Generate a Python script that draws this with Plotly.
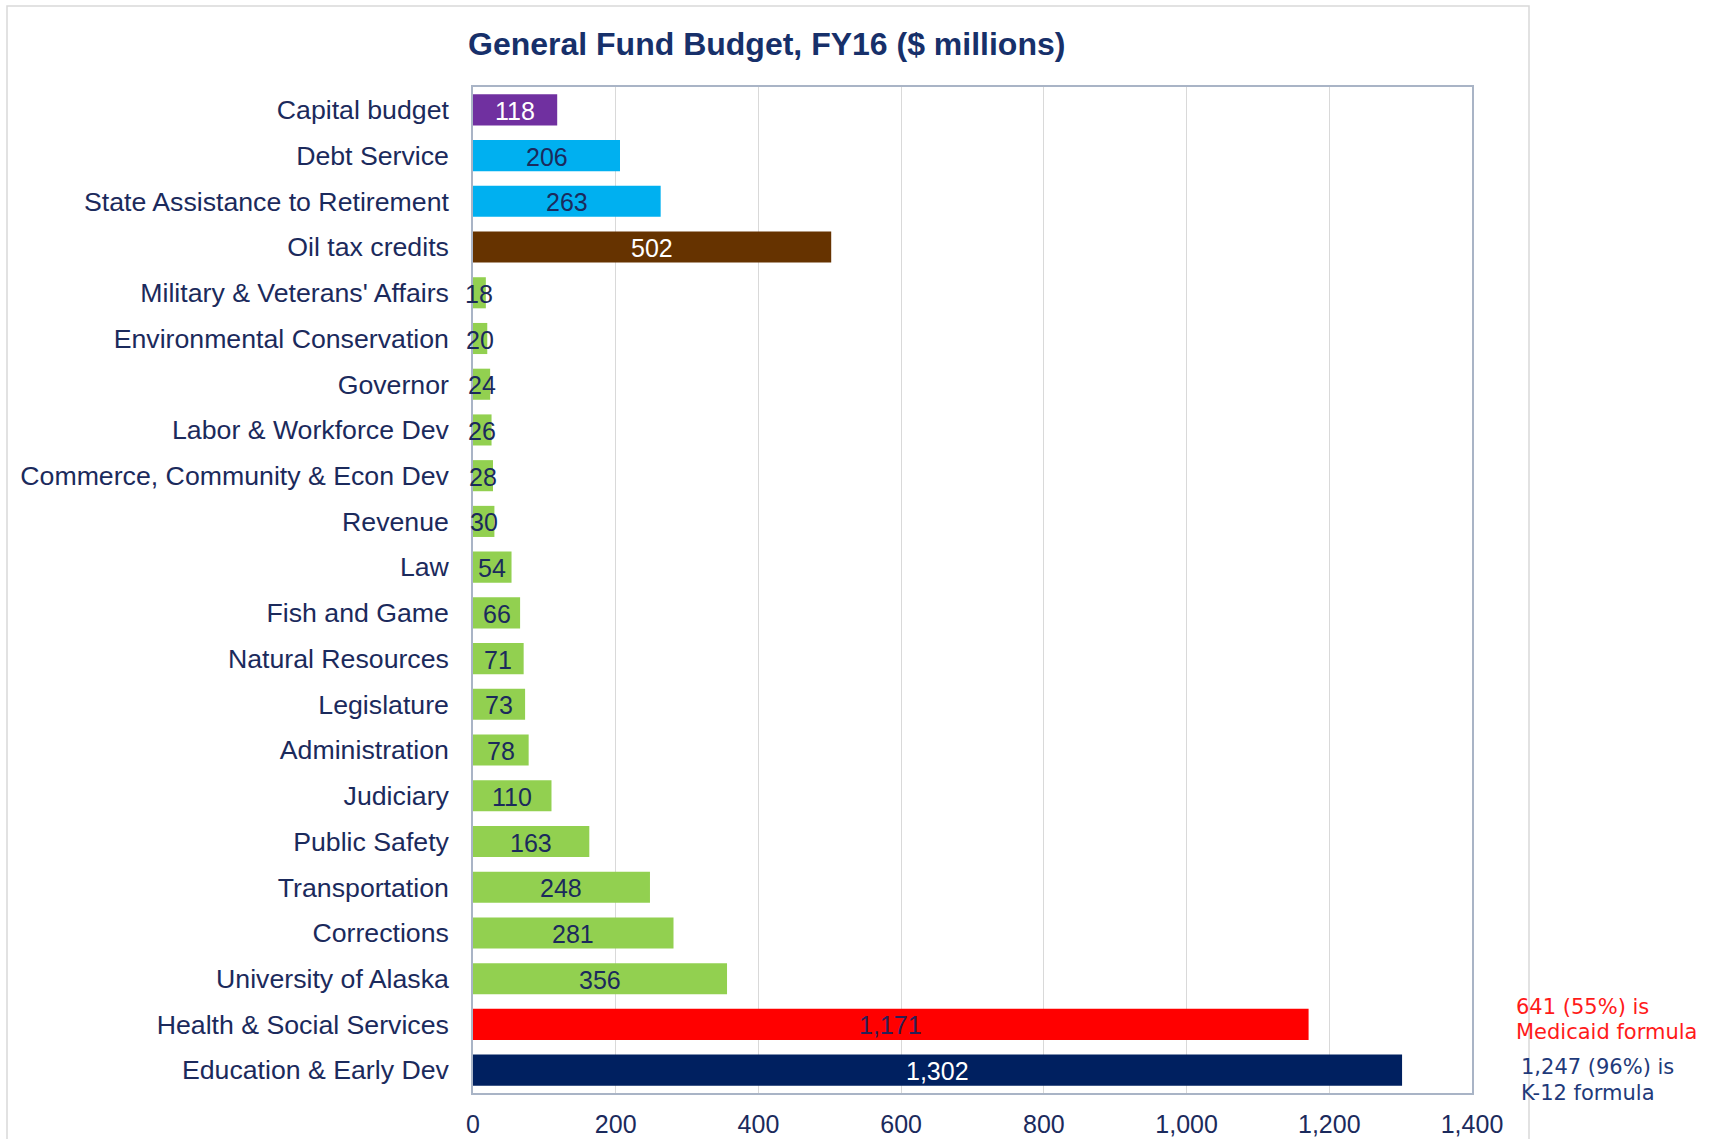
import plotly.graph_objects as go

# General Fund budget by line item, FY16 ($ millions), listed top to bottom
categories = [
    "Capital budget",
    "Debt Service",
    "State Assistance to Retirement",
    "Oil tax credits",
    "Military & Veterans' Affairs",
    "Environmental Conservation",
    "Governor",
    "Labor & Workforce Dev",
    "Commerce, Community & Econ Dev",
    "Revenue",
    "Law",
    "Fish and Game",
    "Natural Resources",
    "Legislature",
    "Administration",
    "Judiciary",
    "Public Safety",
    "Transportation",
    "Corrections",
    "University of Alaska",
    "Health & Social Services",
    "Education & Early Dev",
]
values = [118, 206, 263, 502, 18, 20, 24, 26, 28, 30, 54, 66, 71, 73, 78,
          110, 163, 248, 281, 356, 1171, 1302]
groups = ["capital", "retire", "retire", "oil"] + ["agency"] * 16 + ["hss", "edu"]

x_ticks = [0, 200, 400, 600, 800, 1000, 1200, 1400]
x_tick_labels = ["0", "200", "400", "600", "800", "1,000", "1,200", "1,400"]

note_hss = ["641 (55%) is", "Medicaid formula"]
note_edu = ["1,247 (96%) is", "K-12 formula"]

NAVY = "#1B2A5C"
bar_fill = {
    "capital": "#7030A0",
    "retire": "#00B0F0",
    "oil": "#663300",
    "agency": "#92D050",
    "hss": "#FF0000",
    "edu": "#002060",
}
label_ink = {
    "capital": "white",
    "retire": NAVY,
    "oil": "white",
    "agency": NAVY,
    "hss": "#2A1F55",
    "edu": "white",
}

FONT = "Liberation Sans, Arial, sans-serif"

# plot-area geometry (pixels)
W, H = 1715, 1139
L, R, T, B = 473, 243, 87, 46
PW, PH = W - L - R, H - T - B

fig = go.Figure()

fig.add_trace(go.Bar(
    y=categories,
    x=values,
    orientation="h",
    marker=dict(color=[bar_fill[g] for g in groups], line=dict(width=0)),
    hoverinfo="skip",
))

# value labels centred on each bar (they overflow the very short bars)
for cat, val, grp in zip(categories, values, groups):
    fig.add_annotation(
        x=val / 2, y=cat, xref="x", yref="y",
        text=f"{val:,}", showarrow=False,
        xanchor="center", yanchor="middle", yshift=-1,
        font=dict(family=FONT, size=25, color=label_ink[grp]),
    )

fig.update_layout(
    width=W,
    height=H,
    margin=dict(l=L, r=R, t=T, b=B),
    paper_bgcolor="white",
    plot_bgcolor="white",
    showlegend=False,
    bargap=0.32,
    font=dict(family=FONT, color=NAVY),
    title=dict(
        text="<b>General Fund Budget, FY16 ($ millions)</b>",
        font=dict(family=FONT, size=32, color="#17306A"),
        xref="paper", x=0.294, xanchor="center",
        yref="container", y=1 - 44 / H, yanchor="middle",
    ),
)

fig.update_xaxes(
    range=[0, 1400],
    tickvals=x_ticks,
    ticktext=x_tick_labels,
    tickfont=dict(family=FONT, size=25, color=NAVY),
    showgrid=True,
    gridcolor="#D9D9D9",
    gridwidth=1.2,
    zeroline=False,
    showline=True,
    linecolor="#A9B4C6",
    linewidth=1.5,
    mirror=True,
    ticks="",
    ticklabelstandoff=8,
    automargin=False,
)
fig.update_yaxes(
    range=[len(categories) - 0.5, -0.5],
    tickfont=dict(family=FONT, size=26.7, color=NAVY),
    showgrid=False,
    showline=True,
    linecolor="#A9B4C6",
    linewidth=1.5,
    mirror=True,
    ticks="",
    ticklabelstandoff=17,
    automargin=False,
)

# light outer frame around the chart
fig.add_shape(
    type="rect", xref="paper", yref="paper",
    x0=(7 - L) / PW, x1=(1529 - L) / PW,
    y0=-0.1, y1=(H - B - 6) / PH,
    line=dict(color="#D9D9D9", width=1.5),
    fillcolor="rgba(0,0,0,0)",
    layer="below",
)

# side notes next to the two largest bars, one annotation per line
NOTE_FONT = "DejaVu Sans, sans-serif"
note_lines = [
    (note_hss[0], 1514, 1007, "#FF1A1A"),
    (note_hss[1], 1514, 1032, "#FF1A1A"),
    (note_edu[0], 1519, 1067, "#1F3A7A"),
    (note_edu[1], 1519, 1093, "#1F3A7A"),
]
for txt, px, py, col in note_lines:
    fig.add_annotation(
        text=txt, xref="paper", yref="paper",
        x=(px - L) / PW, y=(H - B - py) / PH,
        xanchor="left", yanchor="middle", align="left", showarrow=False,
        font=dict(family=NOTE_FONT, size=21, color=col),
    )

fig.write_html("out.html")
